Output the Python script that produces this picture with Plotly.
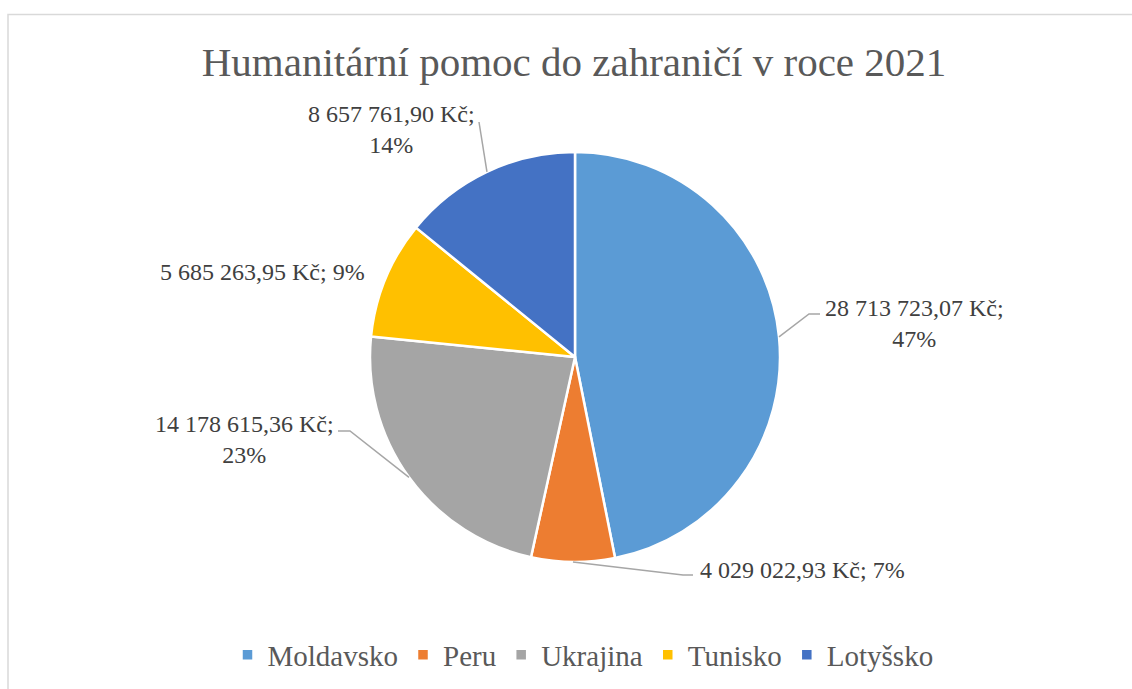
import math
import plotly.graph_objects as go

W, H = 1132, 689

title_text = "Humanitární pomoc do zahraničí v roce 2021"
countries = ["Moldavsko", "Peru", "Ukrajina", "Tunisko", "Lotyšsko"]
values = [28713723.07, 4029022.93, 14178615.36, 5685263.95, 8657761.90]
colors = ["#5B9BD5", "#ED7D31", "#A5A5A5", "#FFC000", "#4472C4"]

FONT = "Liberation Serif"
TEXT_COLOR = "#404040"
LINE_COLOR = "#A6A6A6"

# pie geometry (pixels)
CX, CY, R = 575, 357, 205

def px(x):
    return x / W

def py(y):
    return 1 - y / H

def fmt_kc(v):
    s = f"{v:,.2f}"
    s = s.replace(",", " ").replace(".", ",")
    return s + " Kč"

total = sum(values)
fracs = [v / total for v in values]
cum = 0
mids = []
for f in fracs:
    mids.append(cum + f / 2)
    cum += f

def edge_point(i):
    a = 2 * math.pi * mids[i]
    return CX + R * math.sin(a), CY - R * math.cos(a)

# label layout: (x, y, xanchor, two_line, leader elbow points)
label_layout = {
    0: dict(x=914, y=324, xanchor="center", br=True, path=[(809, 314), (820, 314)]),
    1: dict(x=698, y=570, xanchor="left", br=False, path=[(683, 575), (693, 575)]),
    2: dict(x=244, y=439, xanchor="center", br=True, path=[(350, 431), (338, 431)]),
    3: dict(x=262, y=272, xanchor="center", br=False, path=[]),
    4: dict(x=391, y=130, xanchor="center", br=True, path=[(479, 122)]),
}

fig = go.Figure()
fig.add_trace(go.Pie(
    labels=countries,
    values=values,
    sort=False,
    direction="clockwise",
    rotation=0,
    marker=dict(colors=colors, line=dict(color="white", width=2.5)),
    textinfo="none",
    hoverinfo="label+value+percent",
    domain=dict(x=[px(CX - R), px(CX + R)], y=[py(CY + R), py(CY - R)]),
))

annotations = []
shapes = []
for i, v in enumerate(values):
    L = label_layout[i]
    pct = f"{round(fracs[i] * 100)}%"
    sep = ";<br>" if L["br"] else "; "
    annotations.append(dict(
        x=px(L["x"]), y=py(L["y"]), xref="paper", yref="paper",
        text=fmt_kc(v) + sep + pct, showarrow=False,
        xanchor=L["xanchor"], yanchor="middle", align="center",
        font=dict(family=FONT, size=24, color=TEXT_COLOR),
    ))
    if L["path"]:
        pts = [edge_point(i)] + L["path"]
        d = "M " + " L ".join(f"{px(x):.5f},{py(y):.5f}" for x, y in pts)
        shapes.append(dict(type="path", path=d, xref="paper", yref="paper",
                           line=dict(color=LINE_COLOR, width=1.5)))

# chart frame
shapes.append(dict(type="rect", xref="paper", yref="paper",
                   x0=px(8), x1=1.2, y0=-0.2, y1=py(14.5),
                   line=dict(color="#D9D9D9", width=1.5), fillcolor="rgba(0,0,0,0)",
                   layer="below"))

fig.update_layout(
    width=W, height=H,
    margin=dict(l=0, r=0, t=0, b=0),
    paper_bgcolor="white", plot_bgcolor="white",
    title=dict(text=title_text, x=px(574), xanchor="center", y=py(62), yanchor="middle",
               font=dict(family=FONT, size=41, color="#595959")),
    legend=dict(orientation="h", x=px(583), xanchor="center", y=py(655), yanchor="middle",
                font=dict(family=FONT, size=29, color="#595959"), traceorder="normal"),
    annotations=annotations,
    shapes=shapes,
)

fig.write_html("out.html", config={"displayModeBar": False},
               post_script="document.body.style.margin='0';document.body.style.padding='0';"
                           "document.body.style.overflow='hidden';")
